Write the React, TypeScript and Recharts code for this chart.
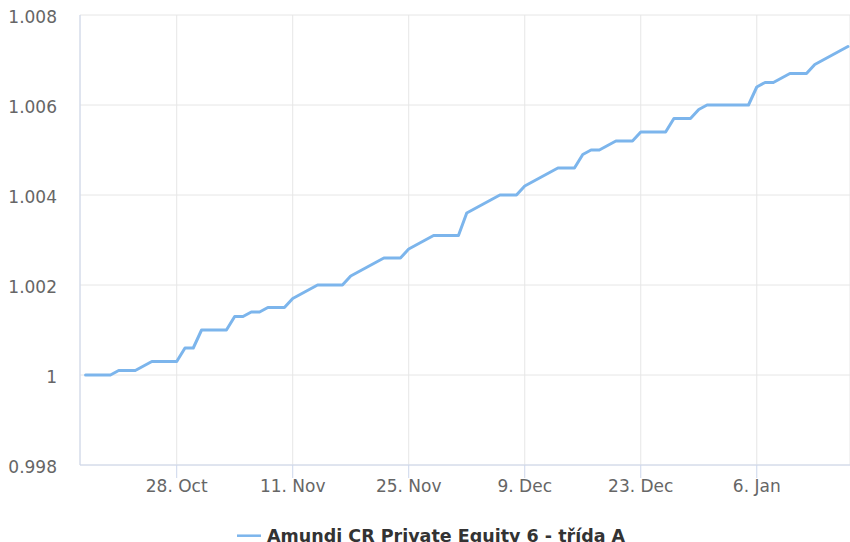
import React from 'react';
import { LineChart, Line, XAxis, YAxis, CartesianGrid, Legend } from 'recharts';

const DAY = 86400000;
const seriesName = 'Amundi CR Private Equity 6 - třída A';
const firstDate = Date.UTC(2024, 9, 17);

// daily NAV values, 17 Oct 2024 .. 17 Jan 2025
const octValues = [
  1.0, 1.0, 1.0, 1.0, 1.0001, 1.0001, 1.0001, 1.0002, 1.0003, 1.0003, 1.0003, 1.0003, 1.0006, 1.0006, 1.001,
];
const novValues = [
  1.001, 1.001, 1.001, 1.0013, 1.0013, 1.0014, 1.0014, 1.0015, 1.0015, 1.0015,
  1.0017, 1.0018, 1.0019, 1.002, 1.002, 1.002, 1.002, 1.0022, 1.0023, 1.0024,
  1.0025, 1.0026, 1.0026, 1.0026, 1.0028, 1.0029, 1.003, 1.0031, 1.0031, 1.0031,
];
const decValues = [
  1.0031, 1.0036, 1.0037, 1.0038, 1.0039, 1.004, 1.004, 1.004, 1.0042, 1.0043,
  1.0044, 1.0045, 1.0046, 1.0046, 1.0046, 1.0049, 1.005, 1.005, 1.0051, 1.0052,
  1.0052, 1.0052, 1.0054, 1.0054, 1.0054, 1.0054, 1.0057, 1.0057, 1.0057, 1.0059, 1.006,
];
const janValues = [
  1.006, 1.006, 1.006, 1.006, 1.006, 1.0064, 1.0065, 1.0065, 1.0066, 1.0067,
  1.0067, 1.0067, 1.0069, 1.007, 1.0071, 1.0072, 1.0073,
];

const xTickDates = [
  Date.UTC(2024, 9, 28),
  Date.UTC(2024, 10, 11),
  Date.UTC(2024, 10, 25),
  Date.UTC(2024, 11, 9),
  Date.UTC(2024, 11, 23),
  Date.UTC(2025, 0, 6),
];
const xTickLabels = ['28. Oct', '11. Nov', '25. Nov', '9. Dec', '23. Dec', '6. Jan'];
const yTicks = [0.998, 1, 1.002, 1.004, 1.006, 1.008];

const allValues = [...octValues, ...novValues, ...decValues, ...janValues];
const data = allValues.map((v, i) => ({ t: firstDate + i * DAY, v }));
const lastDate = data[data.length - 1].t;

const FONT = '"DejaVu Sans", sans-serif';
const LINE_COLOR = '#7cb5ec';

const renderLegend = () => (
  <svg width={850} height={32} style={{ display: 'block' }}>
    <line x1={237} x2={261} y1={25.7} y2={25.7} stroke={LINE_COLOR} strokeWidth={2.5} />
    <text x={267} y={31.8} fontFamily={FONT} fontSize={17.5} fontWeight="bold" fill="#333333">
      {seriesName}
    </text>
  </svg>
);

export default function App() {
  return (
    <div style={{ position: 'absolute', left: 0, top: 0, width: 850, height: 542, background: '#fff' }}>
      <LineChart width={850} height={542} data={data} margin={{ top: 15, right: 0, left: 0, bottom: 0 }}>
        <CartesianGrid stroke="#e6e6e6" strokeWidth={1} />
        <XAxis
          dataKey="t"
          type="number"
          scale="time"
          domain={[firstDate - 0.67 * DAY, lastDate + 0.25 * DAY]}
          ticks={xTickDates}
          tickFormatter={(t: number) => xTickLabels[xTickDates.indexOf(t)] ?? ''}
          height={45}
          tickSize={13}
          tickMargin={2}
          axisLine={{ stroke: '#ccd6eb' }}
          tickLine={{ stroke: '#ccd6eb' }}
          tick={{ fill: '#666666', fontSize: 17, fontFamily: FONT }}
          interval={0}
          allowDataOverflow
        />
        <YAxis
          type="number"
          domain={[0.998, 1.008]}
          ticks={yTicks}
          tickFormatter={(v: number) => String(Number(v.toFixed(4)))}
          width={80}
          tickLine={false}
          tickSize={0}
          tickMargin={23}
          axisLine={{ stroke: '#ccd6eb' }}
          tick={{ fill: '#666666', fontSize: 17, fontFamily: FONT, dy: 2 }}
          interval={0}
          allowDataOverflow
        />
        <Legend verticalAlign="bottom" content={renderLegend} />
        <Line
          type="linear"
          dataKey="v"
          name={seriesName}
          stroke={LINE_COLOR}
          strokeWidth={3}
          strokeLinecap="round"
          strokeLinejoin="round"
          dot={false}
          activeDot={false}
          isAnimationActive={false}
        />
      </LineChart>
    </div>
  );
}
